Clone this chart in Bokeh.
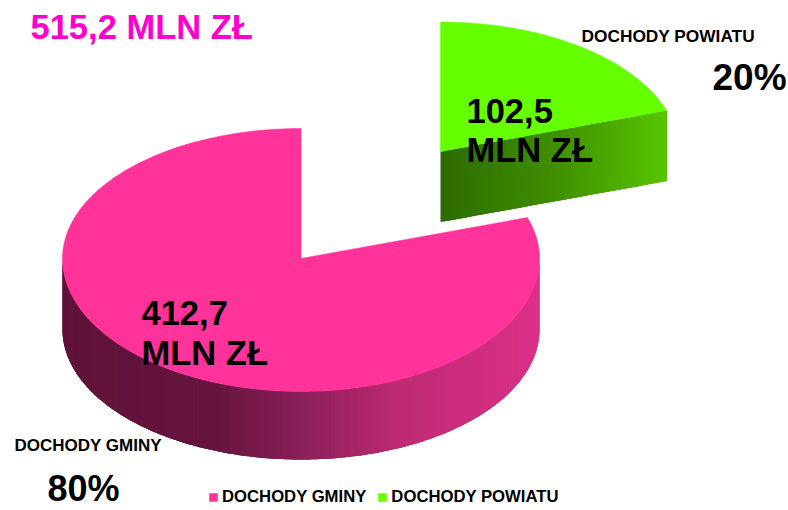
import math
from bokeh.plotting import figure
from bokeh.models import Range1d, Legend, LegendItem
from bokeh.core.properties import value
from bokeh.embed import file_html
from bokeh.resources import INLINE

categories = ["DOCHODY GMINY", "DOCHODY POWIATU"]
values = [412.7, 102.5]
value_labels = ["412,7\nMLN ZŁ", "102,5\nMLN ZŁ"]
share_labels = ["80%", "20%"]
total_label = "515,2 MLN ZŁ"

PINK, GREEN = "#ff3399", "#66ff00"
FONT = value("Liberation Sans")

p = figure(width=788, height=510, output_backend="svg", toolbar_location=None,
           x_range=Range1d(0, 788), y_range=Range1d(510, 0), min_border=0,
           outline_line_color=None, background_fill_color="white")
p.axis.visible = False
p.grid.visible = False

RX = 238.5
cx_g, cy_g = 300.5, 258    # pink slice apex
cx_p, cy_p = 440, 151.5    # green slice apex
DEPTH = 70

total = sum(values)
a_split = 2 * math.pi * values[1] / total   # green runs 0..a_split clockwise from 12 o'clock


def ell_y(cy, a, rb=130, rf=133):
    c = math.cos(a)
    return cy - c * (rb if c > 0 else rf)


def sector(cx, cy, a0, a1, n=240):
    xs, ys = [cx], [cy]
    for i in range(n + 1):
        a = a0 + (a1 - a0) * i / n
        xs.append(cx + RX * math.sin(a))
        ys.append(ell_y(cy, a))
    return xs, ys


def mix(stops, f):
    for (f0, c0), (f1, c1) in zip(stops, stops[1:]):
        if f <= f1:
            t = (f - f0) / (f1 - f0) if f1 > f0 else 0
            rgb = [round(int(c0[i:i+2], 16) * (1 - t) + int(c1[i:i+2], 16) * t) for i in (1, 3, 5)]
            return "#%02x%02x%02x" % tuple(rgb)
    return stops[-1][1]


# pink rim, shaded along x; every strip overlaps the next so no seams show
pink_stops = [(0.0, "#5f1238"), (0.33, "#67153f"), (0.5, "#8a1f58"), (0.7, "#bd2a72"), (1.0, "#dc3088")]
n = 200
xs, ys, cs = [], [], []
for i in range(n):
    angles = [math.pi / 2 + math.pi * min(i + k, n) / n for k in (0, 1, 2, 3)]
    top = [(cx_g + RX * math.sin(a), ell_y(cy_g, a)) for a in angles]
    bot = [(cx_g + RX * math.sin(a), cy_g + DEPTH + 1 - 130 * math.cos(a)) for a in reversed(angles)]
    xs.append([q[0] for q in top + bot])
    ys.append([q[1] for q in top + bot])
    mid = cx_g + RX * math.sin(math.pi / 2 + math.pi * (i + 0.5) / n)
    cs.append(mix(pink_stops, (mid - (cx_g - RX)) / (2 * RX)))
p.patches(xs, ys, fill_color=cs, line_color=None)

sx, sy = sector(cx_g, cy_g, a_split, 2 * math.pi)
top_g = p.patch(sx, sy, fill_color=PINK, line_color=PINK, line_width=0.5)

sx, sy = sector(cx_p, cy_p, 0, a_split)
top_p = p.patch(sx, sy, fill_color=GREEN, line_color=GREEN, line_width=0.5)

# green cut face, shaded along x
green_stops = [(0.0, "#2e6b00"), (0.5, "#3f8f00"), (1.0, "#58c400")]
ex, ey = cx_p + RX * math.sin(a_split), ell_y(cy_p, a_split)
m = 80
xs, ys, cs = [], [], []
for i in range(m):
    f0, f1 = i / m, min(i + 3, m) / m
    x0, x1 = cx_p + (ex - cx_p) * f0, cx_p + (ex - cx_p) * f1
    y0, y1 = cy_p + (ey - cy_p) * f0, cy_p + (ey - cy_p) * f1
    xs.append([x0, x1, x1, x0])
    ys.append([y0, y1, y1 + DEPTH, y0 + DEPTH])
    cs.append(mix(green_stops, (i + 0.5) / m))
p.patches(xs, ys, fill_color=cs, line_color=None)


def label(x, y, txt, size, color="black"):
    p.text([x], [y], text=[txt], text_font=FONT, text_font_style="bold",
           text_font_size=size, text_color=color, text_baseline="middle", text_align="left")


label(30, 26, total_label, "34.5px", "#ff00cc")
g1, g2 = value_labels[0].split("\n")
b1, b2 = value_labels[1].split("\n")
label(141, 312.5, g1, "34.5px")
label(141, 352, g2, "34.5px")
label(466, 110, b1, "34.5px")
label(466, 149, b2, "34.5px")
label(14, 445, categories[0], "17px")
label(581, 35, categories[1], "17.3px")
label(47, 488, share_labels[0], "36px")
label(712, 77, share_labels[1], "37px")

legend = Legend(items=[LegendItem(label=categories[0], renderers=[top_g]),
                       LegendItem(label=categories[1], renderers=[top_p])],
                orientation="horizontal", location=(208, 3), border_line_color=None,
                background_fill_alpha=0, glyph_width=10, glyph_height=10, label_standoff=4,
                spacing=11, padding=0, margin=4, label_text_font="Liberation Sans",
                label_text_font_style="bold", label_text_font_size="16.7px",
                label_text_color="black")
p.add_layout(legend, "center")

open("out.html", "w").write(file_html(p, INLINE))
